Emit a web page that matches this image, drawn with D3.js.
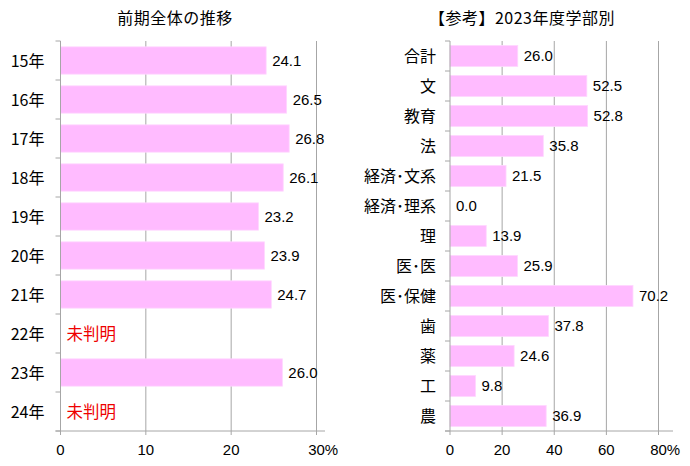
<!DOCTYPE html>
<html>
<head>
<meta charset="utf-8">
<script src="https://cdn.jsdelivr.net/npm/d3@7"></script>
<style>
  body { margin: 0; background: #fff; }
  text { font-family: "Liberation Sans", "Noto Sans CJK JP", sans-serif; }
  .jp { font-family: "Noto Sans CJK JP", sans-serif; }
</style>
</head>
<body>
<div id="chart"></div>
<script>
// data
var years = ["15年", "16年", "17年", "18年", "19年", "20年", "21年", "22年", "23年", "24年"];
var yearValues = [24.1, 26.5, 26.8, 26.1, 23.2, 23.9, 24.7, null, 26.0, null];
var yearTicks = [0, 10, 20, 30];

var faculties = ["合計", "文", "教育", "法", "経済･文系", "経済･理系", "理", "医･医", "医･保健", "歯", "薬", "工", "農"];
var facultyValues = [26.0, 52.5, 52.8, 35.8, 21.5, 0.0, 13.9, 25.9, 70.2, 37.8, 24.6, 9.8, 36.9];
var facultyTicks = [0, 20, 40, 60, 80];

var width = 690, height = 466;
var svg = d3.select("#chart").append("svg")
  .attr("width", width)
  .attr("height", height);

var barColor = "#ffbbff";
var gridColor = "#a6a6a6";

function drawChart(opt) {
  var g = svg.append("g");

  var x = d3.scaleLinear().domain([0, opt.max]).range([opt.x0, opt.x1]);
  var y = d3.scaleBand().domain(opt.cats).range([41, 431]).paddingInner(0.3).paddingOuter(0.15);
  var band = d3.scaleBand().domain(opt.cats).range([41, 431]);

  // title
  g.append("text")
    .attr("class", "jp")
    .attr("x", opt.titleX)
    .attr("y", 24)
    .attr("text-anchor", "middle")
    .style("font-size", "16px")
    .style("letter-spacing", "0.5px")
    .text(opt.title);

  // gridlines
  g.selectAll(".grid")
    .data(opt.ticks.slice(1))
    .enter().append("line")
    .attr("x1", function(d) { return x(d); })
    .attr("x2", function(d) { return x(d); })
    .attr("y1", 41).attr("y2", 431)
    .attr("stroke", gridColor).attr("stroke-width", 1);

  // bars
  g.selectAll(".bar")
    .data(opt.cats)
    .enter().append("rect")
    .filter(function(d, i) { return opt.values[i] !== null && opt.values[i] > 0; })
    .attr("x", x(0))
    .attr("y", function(d) { return y(d); })
    .attr("height", y.bandwidth())
    .attr("width", function(d) { return x(opt.values[opt.cats.indexOf(d)]) - x(0); })
    .attr("fill", barColor)
    .attr("stroke", "#ffd6ff")
    .attr("stroke-width", 0.8);

  // value labels
  g.selectAll(".val")
    .data(opt.cats)
    .enter().append("text")
    .attr("class", function(d, i) { return opt.values[i] === null ? "jp" : null; })
    .attr("x", function(d, i) {
      var v = opt.values[i];
      return v === null ? x(0) + 6 : x(v) + 6;
    })
    .attr("y", function(d) { return band(d) + band.bandwidth() / 2; })
    .attr("dy", function(d, i) { return opt.values[i] === null ? "0.38em" : "0.36em"; })
    .style("font-size", function(d, i) { return opt.values[i] === null ? "16.5px" : "15px"; })
    .style("fill", function(d, i) { return opt.values[i] === null ? "#ee0000" : "#000"; })
    .text(function(d, i) { return opt.values[i] === null ? "未判明" : opt.values[i].toFixed(1); });

  // category axis
  g.append("line")
    .attr("x1", x(0)).attr("x2", x(0))
    .attr("y1", 41).attr("y2", 431)
    .attr("stroke", gridColor);
  g.selectAll(".ytick")
    .data(opt.cats.concat(["_end"]))
    .enter().append("line")
    .attr("x1", x(0) - 5).attr("x2", x(0))
    .attr("y1", function(d, i) { return 41 + i * band.step(); })
    .attr("y2", function(d, i) { return 41 + i * band.step(); })
    .attr("stroke", gridColor);
  g.selectAll(".ylab")
    .data(opt.cats)
    .enter().append("text")
    .attr("class", "jp")
    .attr("x", x(0) - opt.labelGap)
    .attr("y", function(d) { return band(d) + band.bandwidth() / 2; })
    .attr("dy", "0.38em")
    .attr("text-anchor", "end")
    .style("font-size", "16px")
    .text(function(d) { return d; });

  // value axis
  g.append("line")
    .attr("x1", x(0) - 5).attr("x2", opt.axisEnd)
    .attr("y1", 431).attr("y2", 431)
    .attr("stroke", gridColor);
  g.selectAll(".xtick")
    .data(opt.ticks)
    .enter().append("line")
    .attr("x1", function(d) { return x(d); })
    .attr("x2", function(d) { return x(d); })
    .attr("y1", 431).attr("y2", 435)
    .attr("stroke", gridColor);
  g.selectAll(".xlab")
    .data(opt.ticks)
    .enter().append("text")
    .attr("x", function(d, i) { return i === opt.ticks.length - 1 ? x(d) - 8.3 : x(d); })
    .attr("y", 455)
    .attr("text-anchor", function(d, i) { return i === opt.ticks.length - 1 ? "start" : "middle"; })
    .style("font-size", "15px")
    .text(function(d, i) { return i === opt.ticks.length - 1 ? d + "%" : d; });
}

drawChart({
  title: "前期全体の推移", titleX: 175,
  cats: years, values: yearValues, ticks: yearTicks, max: 30,
  x0: 60.5, x1: 316.5, axisEnd: 325, labelGap: 16
});

drawChart({
  title: "【参考】2023年度学部別", titleX: 522,
  cats: faculties, values: facultyValues, ticks: facultyTicks, max: 80,
  x0: 450, x1: 658.5, axisEnd: 673, labelGap: 14
});
</script>
</body>
</html>
